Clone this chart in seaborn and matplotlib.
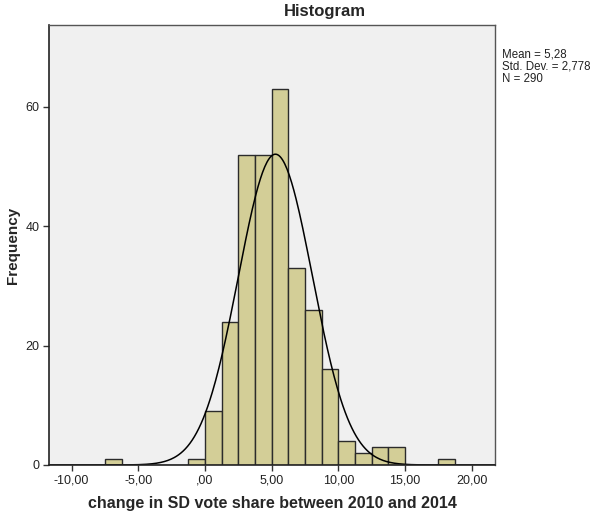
import matplotlib
matplotlib.use("Agg")
import matplotlib.pyplot as plt
import numpy as np
import pandas as pd
import seaborn as sns

# Histogram bins (width 1.25) and counts
bin_edges = [-7.5, -6.25, -5.0, -3.75, -2.5, -1.25, 0.0, 1.25, 2.5, 3.75, 5.0,
             6.25, 7.5, 8.75, 10.0, 11.25, 12.5, 13.75, 15.0, 16.25, 17.5, 18.75]
counts = [1, 0, 0, 0, 0, 1, 9, 24, 52, 52, 63, 33, 26, 16, 4, 2, 3, 3, 0, 0, 1]

# Summary statistics shown on the chart
mean_val = 5.28
std_val = 2.778
n_val = 290

x_ticks = [-10, -5, 0, 5, 10, 15, 20]
x_tick_labels = ["-10,00", "-5,00", ",00", "5,00", "10,00", "15,00", "20,00"]
y_ticks = [0, 20, 40, 60]

sns.set_style("white")
plt.rcParams["font.family"] = ["Liberation Sans", "DejaVu Sans"]

fig = plt.figure(figsize=(5.92, 5.15), dpi=100)
ax = fig.add_axes([0.0828, 0.0971, 0.7534, 0.8544])
ax.set_facecolor("#F0F0F0")

centers = [(a + b) / 2 for a, b in zip(bin_edges[:-1], bin_edges[1:])]
df = pd.DataFrame({"x": centers, "w": counts})
df = df[df["w"] > 0]
sns.histplot(data=df, x="x", weights="w", bins=bin_edges, ax=ax,
             color="#D3CE97", edgecolor="#2b2b2b", linewidth=1.0, alpha=1.0)

# normal curve fitted from mean / sd / N, scaled to bin width
bw = bin_edges[1] - bin_edges[0]
xs = np.linspace(-11.7, 21.75, 400)
ys = n_val * bw * np.exp(-0.5 * ((xs - mean_val) / std_val) ** 2) / (std_val * np.sqrt(2 * np.pi))
sns.lineplot(x=xs, y=ys, ax=ax, color="black", linewidth=1.1)

ax.set_xlim(-11.7, 21.75)
ax.set_ylim(0, 73.7)
ax.set_xticks(x_ticks)
ax.set_xticklabels(x_tick_labels)
ax.set_yticks(y_ticks)
ax.tick_params(axis="both", direction="out", length=4, width=1, color="#333333",
               labelsize=9, labelcolor="#222222", left=True, bottom=True, pad=3)

for side in ["left", "bottom"]:
    ax.spines[side].set_color("#222222")
    ax.spines[side].set_linewidth(1.2)
for side in ["top", "right"]:
    ax.spines[side].set_color("#555555")
    ax.spines[side].set_linewidth(1.0)

ax.set_xlabel("change in SD vote share between 2010 and 2014", fontsize=11.5,
              fontweight="bold", labelpad=7)
ax.set_ylabel("Frequency", fontsize=11, fontweight="bold")
ax.yaxis.set_label_coords(-0.065, 0.5)

fig.text(0.549, 0.977, "Histogram", ha="center", va="center", fontsize=12,
         fontweight="bold")
fig.text(0.848, 0.905, f"Mean = {mean_val:.2f}".replace(".", ",") + "\n"
         + f"Std. Dev. = {std_val:.3f}".replace(".", ",").replace("Dev,", "Dev.").replace("Std,", "Std.") + "\n"
         + f"N = {n_val}", ha="left", va="top", fontsize=8.3, color="#222222",
         linespacing=1.0)

fig.savefig("out.png", dpi=100)
